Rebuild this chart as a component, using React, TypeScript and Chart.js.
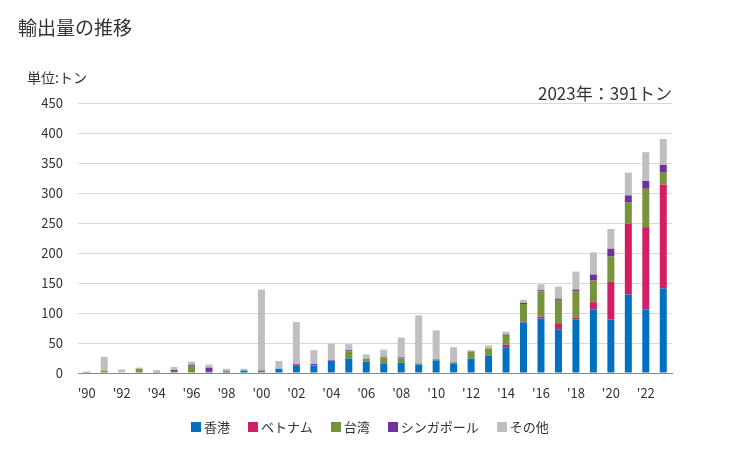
import React, { useEffect, useRef } from "react";
import { Chart, registerables } from "chart.js";

Chart.register(...registerables);

const years = [
  "1990","1991","1992","1993","1994","1995","1996","1997","1998","1999",
  "2000","2001","2002","2003","2004","2005","2006","2007","2008","2009",
  "2010","2011","2012","2013","2014","2015","2016","2017","2018","2019",
  "2020","2021","2022","2023",
];
const hongkong = [0,0,0,0,0,0,0,2,2,4, 0,7,13,12,20,24,19,16,17,14, 21,16,24,29,43,84,91,73,89,106, 89,131,106,141];
const vietnam  = [0,0,0,0,0,0,0,0,0,0, 0,0,1,0,0,0,0,0,0,0, 0,0,0,0,4,2,3,10,3,12, 63,118,137,173];
const taiwan   = [2,4,0,7,2,2,12,0,2,0, 2,0,0,1,0,12,5,10,7,2, 2,2,12,12,15,29,42,39,44,36, 42,35,64,20];
const singapore= [0,0,0,0,0,3,2,7,0,0, 2,0,1,2,1,2,0,1,2,0, 0,0,0,0,2,2,2,2,3,10, 13,12,13,13];
const others   = [0,23,6,2,3,5,5,5,3,3, 135,13,70,23,28,10,7,12,33,80, 48,25,2,5,5,5,10,20,30,37, 33,38,48,43];

const seriesNames = ["香港", "ベトナム", "台湾", "シンガポール", "その他"];
const seriesColors = ["#0070C0", "#D01F64", "#77933C", "#7030A0", "#BFBFBF"];
const yTicks = [0, 50, 100, 150, 200, 250, 300, 350, 400, 450];

const FONT = "'Noto Sans CJK JP', 'Noto Sans', sans-serif";

export default function App() {
  const ref = useRef<HTMLCanvasElement | null>(null);
  useEffect(() => {
    document.body.style.margin = "0";
    if (!ref.current) return;
    const data = [hongkong, vietnam, taiwan, singapore, others];
    const chart = new Chart(ref.current, {
      type: "bar",
      data: {
        labels: years,
        datasets: data.map((d, i) => ({
          label: seriesNames[i],
          data: d,
          backgroundColor: seriesColors[i],
          borderWidth: 0,
          barPercentage: 0.8,
          categoryPercentage: 0.5,
        })),
      },
      options: {
        responsive: false,
        animation: false,
        layout: { padding: { top: 103, right: 57, left: 0, bottom: 41 } },
        plugins: {
          tooltip: { enabled: false },
          legend: { display: false },
        },
        scales: {
          x: {
            stacked: true,
            grid: { display: false, drawTicks: false },
            border: { display: true, color: "#898989", width: 1 },
            ticks: {
              autoSkip: false,
              maxRotation: 0,
              padding: 12,
              color: "#333",
              font: { family: FONT, size: 13 },
              callback: (_v: any, i: number) => (i % 2 === 0 ? "'" + years[i].slice(2) : ""),
            },
            afterFit: (s: any) => { s.height = 36; },
          },
          y: {
            stacked: true,
            min: 0,
            max: 450,
            afterBuildTicks: (s: any) => { s.ticks = yTicks.map((v) => ({ value: v })); },
            grid: { color: "#D9D9D9", lineWidth: 1, drawTicks: false },
            border: { display: false },
            ticks: {
              padding: 15,
              color: "#333",
              font: { family: FONT, size: 13 },
            },
            afterFit: (s: any) => { s.width = 78; },
          },
        },
      },
    });
    return () => chart.destroy();
  }, []);

  return (
    <div style={{ position: "relative", width: 729, height: 450, fontFamily: FONT, color: "#333" }}>
      <canvas ref={ref} width={729} height={450} style={{ display: "block" }} />
      <div style={{ position: "absolute", left: 18, top: 14, fontSize: 19, lineHeight: "26px" }}>輸出量の推移</div>
      <div style={{ position: "absolute", left: 27, top: 66, fontSize: 14, lineHeight: "22px" }}>単位:トン</div>
      <div style={{ position: "absolute", right: 57, top: 80, fontSize: 17, lineHeight: "26px" }}>2023年：391トン</div>
      <div style={{ position: "absolute", left: 191, top: 417, display: "flex", alignItems: "center", fontSize: 13, lineHeight: "20px" }}>
        {seriesNames.map((n, i) => (
          <div key={n} style={{ display: "flex", alignItems: "center", marginRight: 18 }}>
            <span style={{ display: "inline-block", width: 10, height: 10, background: seriesColors[i], marginRight: 3 }} />
            <span>{n}</span>
          </div>
        ))}
      </div>
    </div>
  );
}
